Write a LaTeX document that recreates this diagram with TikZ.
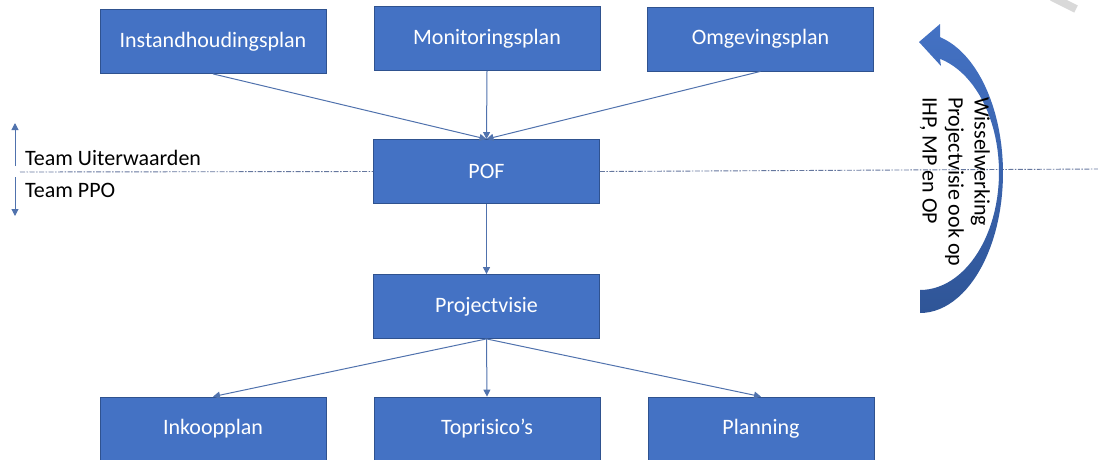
\documentclass[tikz,border=0pt]{standalone}
\usepackage{fontspec}
\setmainfont{Carlito}
\usetikzlibrary{arrows.meta,calc}
\definecolor{boxblue}{HTML}{4472C4}
\definecolor{boxedge}{HTML}{2F528F}
\definecolor{arrowblue}{HTML}{5072AD}
\definecolor{darkblue}{HTML}{2F5597}
\definecolor{lineblue}{HTML}{65779E}

\begin{document}
\begin{tikzpicture}[x=1pt,y=-1pt]
	\clip (0,0) rectangle (1098,459);
	\path [use as bounding box] (0,0) rectangle (1098,459);
	\tikzstyle{plan} = [rectangle, fill=boxblue, draw=boxedge, line width=0.8pt, text=white, inner sep=0pt, minimum width=226pt, minimum height=64pt, font=\fontsize{22}{26}\selectfont]
	\tikzstyle{flow} = [draw=arrowblue, line width=1pt, -{Triangle[length=7pt,width=7pt]}]
	\tikzstyle{grens} = [draw=lineblue, line width=0.9pt, dash pattern=on 5pt off 1.5pt on 1.5pt off 1.5pt]
	\tikzstyle{team} = [anchor=base west, inner sep=0pt, font=\fontsize{22}{26}\selectfont]
	% bovenste rij
	\node[plan] (ihp) at (213,41.5) {Instandhoudingsplan};
	\node[plan] (mp) at (487,38.5) {Monitoringsplan};
	\node[plan] (op) at (760.5,39) {Omgevingsplan};
	% midden
	\node[plan] (pof) at (486.5,171.5) {POF};
	\node[plan] (visie) at (486.5,306.5) {Projectvisie};
	% onderste rij
	\node[plan] (inkoop) at (213,429) {Inkoopplan};
	\node[plan] (risico) at (487,429) {Toprisico’s};
	\node[plan] (planning) at (761,429) {Planning};
	% grens tussen de teams
	\coordinate (gl) at (20,172);
	\coordinate (gr) at (1098,169);
	\draw[grens] (gl) -- (pof.west);
	\draw[grens] (pof.east) -- (gr);
	\draw[flow] (ihp.south) -- (pof.north);
	\draw[flow] (mp.south) -- (pof.north);
	\draw[flow] (op.south) -- (pof.north);
	\draw[flow] (pof.south) -- (visie.north);
	\draw[flow] (visie.south) -- (inkoop.north);
	\draw[flow] (visie.south) -- (risico.north);
	\draw[flow] (visie.south) -- (planning.north);
	% teams links
	\coordinate (up) at (15,123);
	\coordinate (mu) at (15,166);
	\coordinate (md) at (15,177);
	\coordinate (dn) at (15,216);
	\draw[flow] (mu) -- (up);
	\draw[flow] (md) -- (dn);
	\node[team] (tu) at (25,165) {Team Uiterwaarden};
	\node[team] (tp) at (25,197) {Team PPO};
	% gebogen pijl rechts
	\path[top color=boxblue, bottom color=darkblue]
		plot[domain=90:-76, samples=50] ({920+83*cos(\x)},{173+140*sin(\x)})
		-- (940,24) -- (919,42) -- (941,66) -- (940,59)
		-- plot[domain=-75.3:90, samples=50] ({920+79*cos(\x)},{172.5+117.5*sin(\x)})
		-- cycle;
	\node[rotate=-90, anchor=north west, align=left, inner sep=0pt, font=\fontsize{22}{26}\selectfont] (wissel) at (990,97) {Wisselwerking\\Projectvisie ook op\\IHP, MP en OP};
	\draw[gray!30, line width=8pt] (1052,-3) -- (1076,9);
\end{tikzpicture}
\end{document}
